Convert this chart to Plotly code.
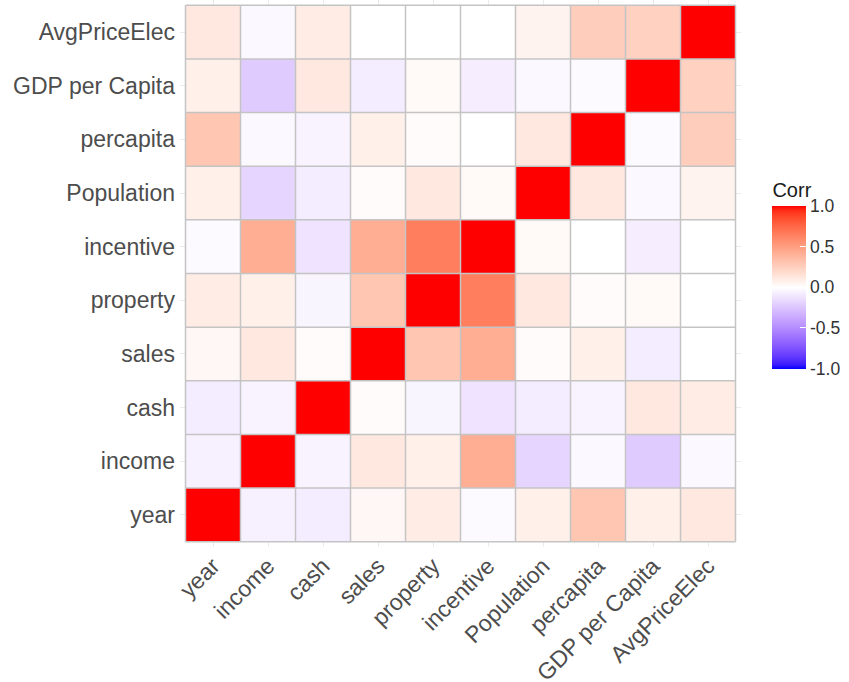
import numpy as np
import plotly.graph_objects as go

# Variables in plotting order (bottom-to-top on y, left-to-right on x)
variables = ["year", "income", "cash", "sales", "property", "incentive",
             "Population", "percapita", "GDP per Capita", "AvgPriceElec"]

# Correlation matrix rows, one list per variable
corr_year = [1.00, -0.06, -0.08, 0.04, 0.10, -0.02, 0.08, 0.30, 0.08, 0.12]
corr_income = [-0.06, 1.00, -0.05, 0.12, 0.08, 0.42, -0.18, -0.03, -0.22, -0.03]
corr_cash = [-0.08, -0.05, 1.00, 0.02, -0.04, -0.12, -0.08, -0.05, 0.12, 0.10]
corr_sales = [0.04, 0.12, 0.02, 1.00, 0.30, 0.42, 0.02, 0.08, -0.08, 0.00]
corr_property = [0.10, 0.08, -0.04, 0.30, 1.00, 0.65, 0.12, 0.02, 0.03, 0.00]
corr_incentive = [-0.02, 0.42, -0.12, 0.42, 0.65, 1.00, 0.03, 0.00, -0.07, 0.00]
corr_population = [0.08, -0.18, -0.08, 0.02, 0.12, 0.03, 1.00, 0.12, -0.03, 0.06]
corr_percapita = [0.30, -0.03, -0.05, 0.08, 0.02, 0.00, 0.12, 1.00, -0.02, 0.26]
corr_gdp = [0.08, -0.22, 0.12, -0.08, 0.03, -0.07, -0.03, -0.02, 1.00, 0.24]
corr_avgprice = [0.12, -0.03, 0.10, 0.00, 0.00, 0.00, 0.06, 0.26, 0.24, 1.00]

corr = np.array([corr_year, corr_income, corr_cash, corr_sales, corr_property,
                 corr_incentive, corr_population, corr_percapita, corr_gdp,
                 corr_avgprice])

colorbar_ticks = [-1.0, -0.5, 0.0, 0.5, 1.0]


# Diverging blue-white-red scale interpolated in CIE Lab space
def srgb_to_lab(rgb):
    c = np.asarray(rgb, float) / 255.0
    c = np.where(c > 0.04045, ((c + 0.055) / 1.055) ** 2.4, c / 12.92)
    m = np.array([[0.4124, 0.3576, 0.1805],
                  [0.2126, 0.7152, 0.0722],
                  [0.0193, 0.1192, 0.9505]])
    xyz = m @ c / np.array([0.95047, 1.0, 1.08883])
    f = np.where(xyz > 0.008856, np.cbrt(xyz), 7.787 * xyz + 16 / 116)
    return np.array([116 * f[1] - 16, 500 * (f[0] - f[1]), 200 * (f[1] - f[2])])


def lab_to_srgb(lab):
    L, a, b = lab
    fy = (L + 16) / 116
    fx = fy + a / 500
    fz = fy - b / 200
    f = np.array([fx, fy, fz])
    xyz = np.where(f ** 3 > 0.008856, f ** 3, (f - 16 / 116) / 7.787)
    xyz = xyz * np.array([0.95047, 1.0, 1.08883])
    minv = np.array([[3.2406, -1.5372, -0.4986],
                     [-0.9689, 1.8758, 0.0415],
                     [0.0557, -0.2040, 1.0570]])
    c = minv @ xyz
    c = np.where(c > 0.0031308, 1.055 * np.clip(c, 0, None) ** (1 / 2.4) - 0.055, 12.92 * c)
    c = np.clip(c, 0, 1) * 255
    return "rgb({:.0f},{:.0f},{:.0f})".format(*c)


lab_blue = srgb_to_lab([0, 0, 255])
lab_white = srgb_to_lab([255, 255, 255])
lab_red = srgb_to_lab([255, 0, 0])
colorscale = []
n = 20
for i in range(n + 1):
    t = i / n
    colorscale.append([t / 2, lab_to_srgb(lab_blue + (lab_white - lab_blue) * t)])
for i in range(1, n + 1):
    t = i / n
    colorscale.append([0.5 + t / 2, lab_to_srgb(lab_white + (lab_red - lab_white) * t)])

positions = list(range(1, len(variables) + 1))

fig = go.Figure()
fig.add_trace(go.Heatmap(
    z=corr, x=positions, y=positions,
    zmin=-1, zmax=1, colorscale=colorscale,
    hovertemplate="%{z:.2f}<extra></extra>",
    colorbar=dict(
        title=dict(text="Corr", font=dict(size=20, color="#1a1a1a"), side="top"),
        tickvals=colorbar_ticks, ticktext=[f"{v:.1f}" for v in colorbar_ticks],
        tickfont=dict(size=17.5, color="#333333"),
        ticks="inside", ticklen=6, tickcolor="white", tickwidth=1,
        thickness=34, thicknessmode="pixels",
        len=190, lenmode="pixels",
        x=1.056, xanchor="left", y=0.326, yanchor="bottom",
        outlinewidth=0, xpad=0, ypad=0,
    ),
))

# Tile outlines
edges = [k + 0.5 for k in range(len(variables) + 1)]
lo, hi = edges[0], edges[-1]
for e in edges:
    fig.add_shape(type="line", x0=e, x1=e, y0=lo, y1=hi,
                  line=dict(color="#C4C4C4", width=1.5), layer="above")
    fig.add_shape(type="line", x0=lo, x1=hi, y0=e, y1=e,
                  line=dict(color="#C4C4C4", width=1.5), layer="above")

axis_font = dict(family="Liberation Sans, Arial, sans-serif", size=23, color="#4D4D4D")
fig.update_xaxes(
    range=[0.4, len(variables) + 0.6], tickvals=positions, ticktext=variables,
    tickangle=-45, tickfont=axis_font, showgrid=True, gridcolor="#EBEBEB",
    zeroline=False, showline=False, ticks="", fixedrange=True,
)
fig.update_yaxes(
    range=[0.4, len(variables) + 0.6], tickvals=positions, ticktext=variables,
    tickfont=axis_font, showgrid=True, gridcolor="#EBEBEB",
    zeroline=False, showline=False, ticks="", ticklabelstandoff=4, fixedrange=True,
)

fig.update_layout(
    width=849, height=682,
    margin=dict(l=180, r=108, t=0, b=135, autoexpand=False),
    paper_bgcolor="white", plot_bgcolor="white",
    font=dict(family="Liberation Sans, Arial, sans-serif"),
)

fig.write_html("out.html")
